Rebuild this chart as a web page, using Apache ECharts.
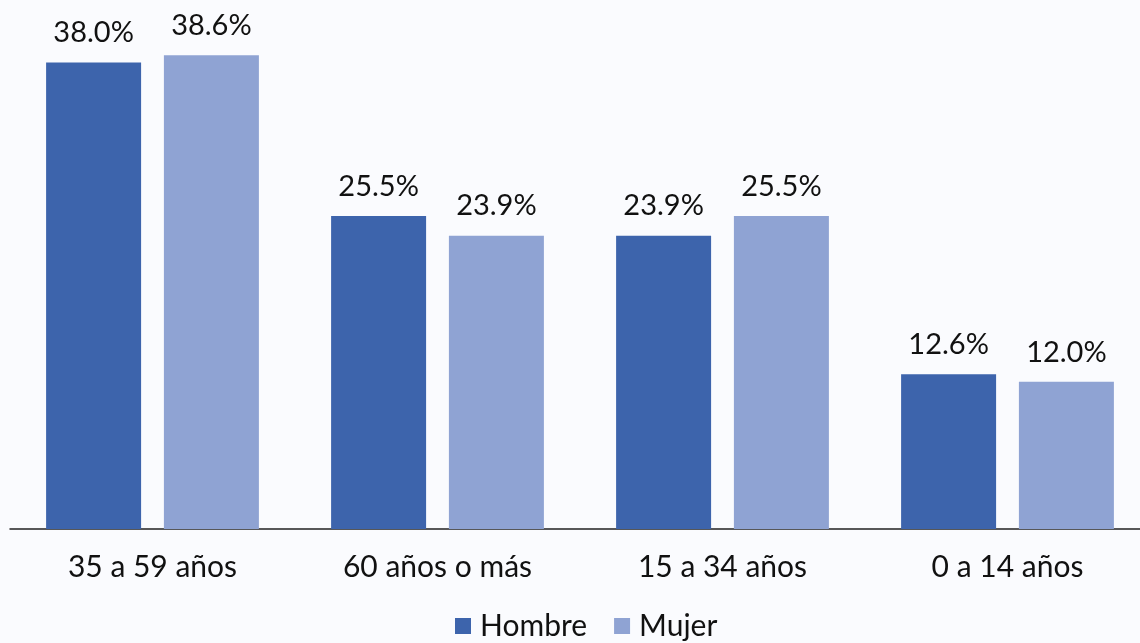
<!DOCTYPE html>
<html><head><meta charset="utf-8">
<script src="https://cdn.jsdelivr.net/npm/echarts@6/dist/echarts.min.js"></script>
<style>html,body{margin:0;padding:0;background:#fafbfe;overflow:hidden;}#c{width:1150px;height:643px;}</style>
</head><body><div id="c"></div>
<script>
const categories = ['35 a 59 años', '60 años o más', '15 a 34 años', '0 a 14 años'];
const hombre = [38.0, 25.5, 23.9, 12.6];
const mujer = [38.6, 23.9, 25.5, 12.0];
const seriesNames = ['Hombre', 'Mujer'];

const chart = echarts.init(document.getElementById('c'));
const font = 'Lato, "Noto Sans", sans-serif';
const lbl = {
  show: true, position: 'top', distance: 15,
  formatter: p => p.value.toFixed(1) + '%',
  color: '#111', fontSize: 29, fontFamily: font
};
chart.setOption({
  backgroundColor: '#fafbfe',
  animation: false,
  legend: {
    bottom: 2, left: 455, itemWidth: 16, itemHeight: 16, itemGap: 27,
    icon: 'rect', padding: 0,
    textStyle: { fontSize: 30, color: '#111', fontFamily: font, padding: [0, 0, 0, 4] },
    data: seriesNames
  },
  grid: { left: 10, top: 38, right: 0, bottom: 114, containLabel: false },
  xAxis: {
    type: 'category', data: categories,
    axisLine: { lineStyle: { color: '#222', width: 1.5 } },
    axisTick: { show: false },
    axisLabel: { fontSize: 30, color: '#111', fontFamily: font, margin: 23 }
  },
  yAxis: { type: 'value', min: 0, max: 40, show: false, splitLine: { show: false } },
  series: [
    { name: seriesNames[0], type: 'bar', data: hombre, barWidth: 95, barGap: '24%',
      itemStyle: { color: '#3d64ac' }, label: lbl },
    { name: seriesNames[1], type: 'bar', data: mujer, barWidth: 95, barGap: '24%',
      itemStyle: { color: '#8fa3d3' }, label: lbl }
  ]
});
</script></body></html>
